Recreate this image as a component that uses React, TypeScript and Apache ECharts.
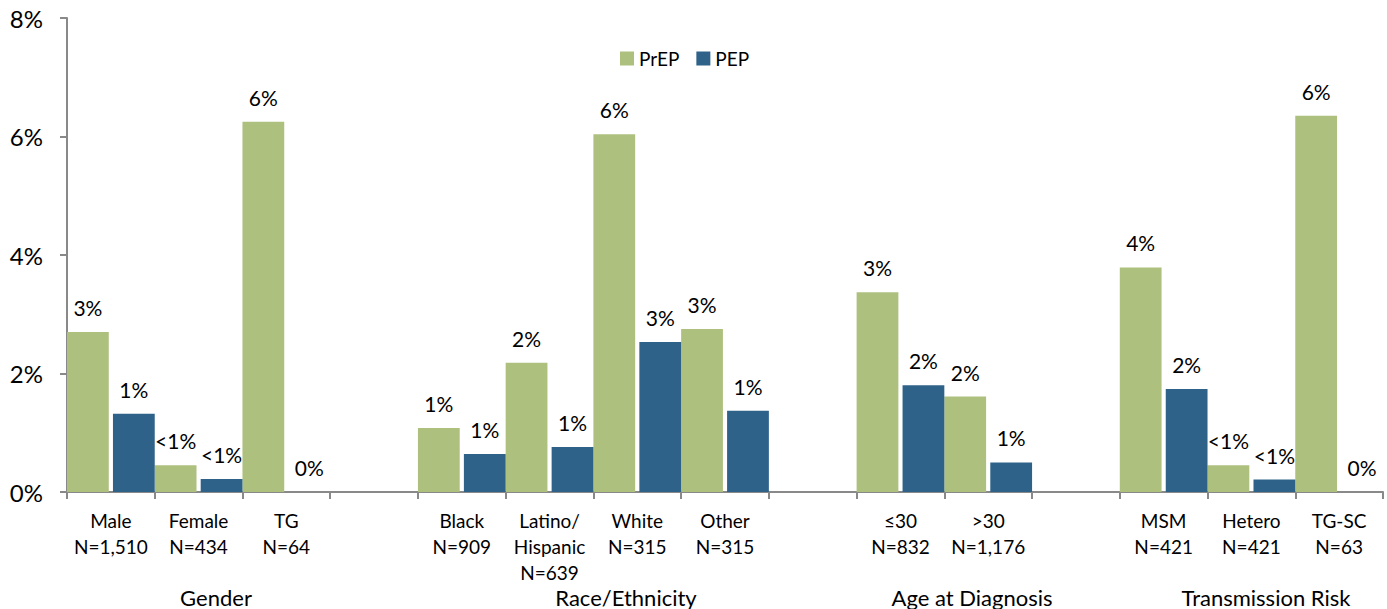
import React, { useEffect, useRef } from "react";
import * as echarts from "echarts";

const categories = [
  "Male\nN=1,510",
  "Female\nN=434",
  "TG\nN=64",
  " ",
  "Black\nN=909",
  "Latino/\nHispanic\nN=639",
  "White\nN=315",
  "Other\nN=315",
  "  ",
  "≤30\nN=832",
  ">30\nN=1,176",
  "   ",
  "MSM\nN=421",
  "Hetero\nN=421",
  "TG-SC\nN=63",
];

const prepValues = [2.7, 0.45, 6.25, null, 1.08, 2.18, 6.04, 2.75, null, 3.37, 1.61, null, 3.79, 0.45, 6.35];
const pepValues = [1.32, 0.22, 0, null, 0.64, 0.76, 2.53, 1.37, null, 1.8, 0.5, null, 1.74, 0.21, 0];

const prepLabels = ["3%", "<1%", "6%", "", "1%", "2%", "6%", "3%", "", "3%", "2%", "", "4%", "<1%", "6%"];
const pepLabels = ["1%", "<1%", "0%", "", "1%", "1%", "3%", "1%", "", "2%", "1%", "", "2%", "<1%", "0%"];

const yTicks = [0, 2, 4, 6, 8];

const groupLabels = ["Gender", "Race/Ethnicity", "Age at Diagnosis", "Transmission Risk"];
const groupCenters = [216, 626, 972, 1266];

const FONT = "Lato";
const GREEN = "#adc07e";
const BLUE = "#2e6289";
const AXIS = "#898989";

export default function App() {
  const ref = useRef<HTMLDivElement>(null);
  useEffect(() => {
    if (!ref.current) return;
    const chart = echarts.init(ref.current, undefined, { renderer: "svg" });
    chart.setOption({
      animation: false,
      textStyle: { fontFamily: FONT },
      legend: {
        left: 615,
        top: 44,
        itemWidth: 14,
        itemHeight: 14,
        itemGap: 17,
        icon: "rect",
        textStyle: { fontFamily: FONT, fontSize: 19, color: "#000" },
        data: ["PrEP", "PEP"],
      },
      grid: { left: 67, right: 4, top: 18, bottom: 117, containLabel: false, outerBoundsMode: "none" },
      xAxis: {
        type: "category",
        data: categories,
        axisLine: { lineStyle: { color: AXIS, width: 2 } },
        axisTick: { show: true, length: 7, lineStyle: { color: AXIS, width: 2 } },
        axisLabel: {
          interval: 0,
          margin: 15,
          fontFamily: FONT,
          fontSize: 19,
          lineHeight: 26,
          color: "#000",
          verticalAlign: "top",
        },
      },
      yAxis: {
        type: "value",
        min: yTicks[0],
        max: yTicks[yTicks.length - 1],
        interval: 2,
        splitLine: { show: false },
        axisLine: { show: true, lineStyle: { color: AXIS, width: 2 } },
        axisTick: { show: true, length: 7, lineStyle: { color: AXIS, width: 2 } },
        axisLabel: {
          margin: 24,
          fontFamily: FONT,
          fontSize: 24,
          color: "#000",
          formatter: (v: number) => `${v}%`,
        },
      },
      series: [
        {
          name: "PrEP",
          type: "bar",
          data: prepValues,
          barGap: "10%",
          barCategoryGap: "0%",
          itemStyle: { color: GREEN },
          label: {
            show: true,
            position: "top",
            distance: 14,
            fontFamily: FONT,
            fontSize: 21,
            color: "#000",
            formatter: (p: any) => prepLabels[p.dataIndex],
          },
        },
        {
          name: "PEP",
          type: "bar",
          data: pepValues,
          barGap: "10%",
          barCategoryGap: "0%",
          itemStyle: { color: BLUE },
          label: {
            show: true,
            position: "top",
            distance: 14,
            fontFamily: FONT,
            fontSize: 21,
            color: "#000",
            formatter: (p: any) => pepLabels[p.dataIndex],
          },
        },
      ],
      graphic: groupLabels.map((t, i) => ({
        type: "text",
        x: groupCenters[i],
        y: 597,
        style: {
          text: t,
          fontFamily: FONT,
          fontSize: 22,
          fill: "#000",
          align: "center",
          verticalAlign: "middle",
        },
      })),
    });
    return () => chart.dispose();
  }, []);
  return (
    <div
      ref={ref}
      style={{ position: "fixed", left: 0, top: 0, width: 1387, height: 609, background: "#fff" }}
    />
  );
}
